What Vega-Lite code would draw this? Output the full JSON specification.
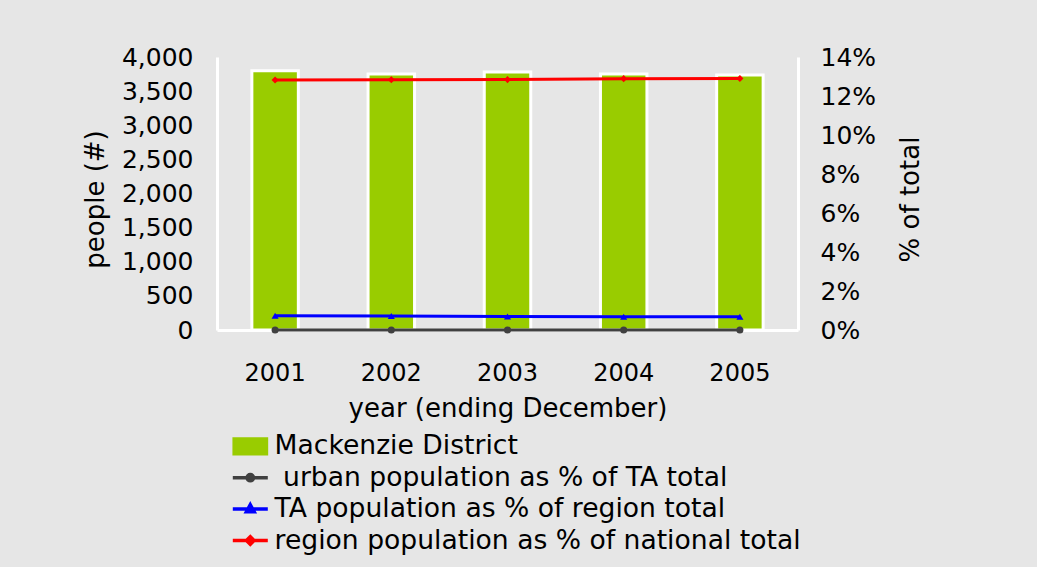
{
  "$schema": "https://vega.github.io/schema/vega-lite/v6.json",
  "width": 581,
  "height": 273,
  "autosize": {"type": "none"},
  "padding": {"left": 217, "top": 57, "right": 239, "bottom": 237},
  "background": "#e6e6e6",
  "config": {
    "view": {"stroke": null},
    "font": "DejaVu Sans",
    "axis": {
      "grid": false,
      "ticks": false,
      "domainColor": "white",
      "domainWidth": 3,
      "labelFontSize": 25,
      "labelColor": "black",
      "titleFontSize": 26,
      "titleFontWeight": "normal",
      "titleColor": "black",
      "labelFont": "DejaVu Sans",
      "titleFont": "DejaVu Sans"
    }
  },
  "datasets": {
    "people": [
      {"year": "2001", "series": "Mackenzie District", "people": 3800},
      {"year": "2002", "series": "Mackenzie District", "people": 3750},
      {"year": "2003", "series": "Mackenzie District", "people": 3780},
      {"year": "2004", "series": "Mackenzie District", "people": 3750},
      {"year": "2005", "series": "Mackenzie District", "people": 3735}
    ],
    "shares": [
      {"year": "2001", "series": "\u200b urban population as % of TA total", "share": 0},
      {"year": "2002", "series": "\u200b urban population as % of TA total", "share": 0},
      {"year": "2003", "series": "\u200b urban population as % of TA total", "share": 0},
      {"year": "2004", "series": "\u200b urban population as % of TA total", "share": 0},
      {"year": "2005", "series": "\u200b urban population as % of TA total", "share": 0},
      {"year": "2001", "series": "TA population as % of region total", "share": 0.0073},
      {"year": "2002", "series": "TA population as % of region total", "share": 0.0072},
      {"year": "2003", "series": "TA population as % of region total", "share": 0.0069},
      {"year": "2004", "series": "TA population as % of region total", "share": 0.0068},
      {"year": "2005", "series": "TA population as % of region total", "share": 0.0068},
      {"year": "2001", "series": "region population as % of national total", "share": 0.1282},
      {"year": "2002", "series": "region population as % of national total", "share": 0.1283},
      {"year": "2003", "series": "region population as % of national total", "share": 0.1284},
      {"year": "2004", "series": "region population as % of national total", "share": 0.1289},
      {"year": "2005", "series": "region population as % of national total", "share": 0.129}
    ]
  },
  "encoding": {
    "x": {
      "field": "year",
      "type": "ordinal",
      "scale": {"paddingInner": 0.6, "paddingOuter": 0.3},
      "axis": {"title": "year (ending December)", "labelAngle": 0, "labelFontSize": 24, "labelPadding": 31, "titlePadding": 10}
    }
  },
  "layer": [
    {
      "data": {"name": "people"},
      "mark": {"type": "bar", "stroke": "white", "strokeWidth": 3},
      "encoding": {
        "y": {
          "field": "people",
          "type": "quantitative",
          "scale": {"domain": [0, 4000]},
          "axis": {
            "orient": "left",
            "title": "people (#)",
            "titleY": 142,
            "values": [0, 500, 1000, 1500, 2000, 2500, 3000, 3500, 4000],
            "format": ",d",
            "labelPadding": 24,
            "titlePadding": 13
          }
        },
        "color": {
          "field": "series",
          "type": "nominal",
          "scale": {
            "domain": ["Mackenzie District", "\u200b urban population as % of TA total", "TA population as % of region total", "region population as % of national total"],
            "range": ["#99cc00", "#404040", "#0000ff", "#ff0000"]
          },
          "legend": {
            "title": null,
            "orient": "none",
            "legendX": 20,
            "legendY": 376,
            "direction": "vertical",
            "labelFontSize": 26.6,
            "labelFont": "DejaVu Sans",
            "labelColor": "black",
            "labelLimit": 900,
            "labelOffset": 11,
            "symbolSize": 1225,
            "rowPadding": 4.4,
            "encoding": {
              "symbols": {
                "shape": {"value": {"expr": "datum.value == 'Mackenzie District' ? 'M-0.95,-0.45H0.95V0.45H-0.95Z' : datum.value == 'TA population as % of region total' ? 'M-1,0H1M0,-0.25L0.22,0.15L-0.22,0.15Z' : datum.value == 'region population as % of national total' ? 'M-1,0H1M0,-0.22L0.22,0L0,0.22L-0.22,0Z' : 'M-1,0H1M-0.18,0A0.18,0.18,0,1,1,0.18,0A0.18,0.18,0,1,1,-0.18,0Z'"}},
                "fill": {"value": {"expr": "datum.value == 'Mackenzie District' ? '#99cc00' : datum.value == 'TA population as % of region total' ? '#0000ff' : datum.value == 'region population as % of national total' ? '#ff0000' : '#404040'"}},
                "stroke": {"value": {"expr": "datum.value == 'Mackenzie District' ? 'white' : datum.value == 'TA population as % of region total' ? '#0000ff' : datum.value == 'region population as % of national total' ? '#ff0000' : '#404040'"}},
                "strokeWidth": {"value": {"expr": "datum.value == 'Mackenzie District' ? 2.5 : 3.5"}},
                "opacity": {"value": 1}
              }
            }
          }
        }
      }
    },
    {
      "data": {"name": "shares"},
      "encoding": {
        "y": {
          "field": "share",
          "type": "quantitative",
          "scale": {"domain": [0, 0.14]},
          "axis": {
            "orient": "right",
            "title": "% of total",
            "titleAngle": 270,
            "titleBaseline": "top",
            "titleY": 142,
            "values": [0, 0.02, 0.04, 0.06, 0.08, 0.1, 0.12, 0.14],
            "format": ".0%",
            "labelPadding": 22,
            "titlePadding": 22
          }
        },
        "color": {"field": "series", "type": "nominal", "legend": null}
      },
      "layer": [
        {"mark": {"type": "line", "strokeWidth": 3}},
        {
          "mark": {"type": "point", "filled": true, "size": 50, "opacity": 1},
          "encoding": {
            "shape": {
              "field": "series",
              "type": "nominal",
              "scale": {
                "domain": ["\u200b urban population as % of TA total", "TA population as % of region total", "region population as % of national total"],
                "range": ["circle", "triangle-up", "diamond"]
              },
              "legend": null
            }
          }
        }
      ]
    }
  ],
  "resolve": {"scale": {"y": "independent"}}
}
